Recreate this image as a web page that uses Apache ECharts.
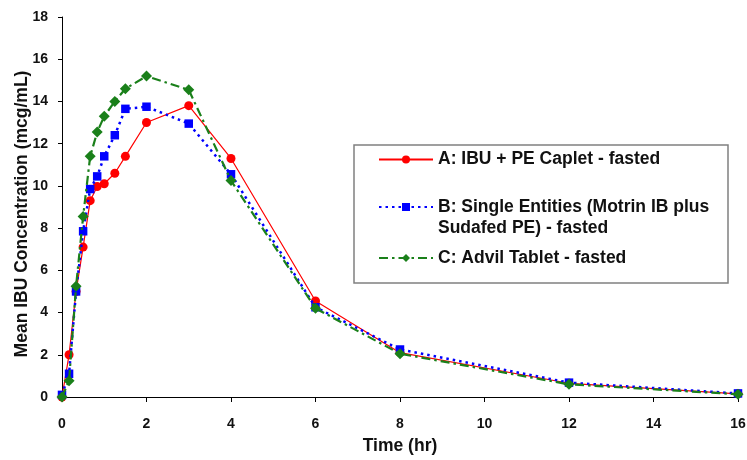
<!DOCTYPE html>
<html>
<head>
<meta charset="utf-8">
<script src="https://cdn.jsdelivr.net/npm/echarts@6/dist/echarts.min.js"></script>
<style>
html,body{margin:0;padding:0;background:#fff;}
#chart{width:747px;height:460px;}
</style>
</head>
<body>
<div id="chart"></div>
<script>
var times = [0, 0.167, 0.333, 0.5, 0.667, 0.833, 1, 1.25, 1.5, 2, 3, 4, 6, 8, 12, 16];
var seriesA = [0, 2.0, 5.0, 7.1, 9.3, 9.97, 10.1, 10.6, 11.4, 13.0, 13.8, 11.3, 4.55, 2.1, 0.65, 0.15];
var seriesB = [0.1, 1.1, 5.0, 7.85, 9.85, 10.45, 11.4, 12.4, 13.65, 13.75, 12.95, 10.55, 4.25, 2.25, 0.68, 0.17];
var seriesC = [0, 0.77, 5.25, 8.55, 11.4, 12.55, 13.3, 14.0, 14.6, 15.2, 14.55, 10.25, 4.2, 2.05, 0.6, 0.13];
var nameA = 'A: IBU + PE Caplet - fasted';
var nameB = 'B: Single Entities (Motrin IB plus\nSudafed PE) - fasted';
var nameC = 'C: Advil Tablet - fasted';
var xTicks = [0, 2, 4, 6, 8, 10, 12, 14, 16];
var yTicks = [0, 2, 4, 6, 8, 10, 12, 14, 16, 18];

function pairs(vals) { return times.map(function (t, i) { return [t, vals[i]]; }); }

var font = '"Liberation Sans", Arial, sans-serif';
var chart = echarts.init(document.getElementById('chart'), null, {renderer: 'canvas'});

function legendCfg(name, top, fmt) {
  var cfg = {
    data: [name], orient: 'vertical', left: 378, top: top, padding: 0,
    itemWidth: 54, itemHeight: 10, itemGap: 0, selectedMode: false,
    textStyle: {fontFamily: font, fontWeight: 'bold', fontSize: 17.5, color: '#111', lineHeight: 21}
  };
  if (fmt) cfg.formatter = fmt;
  return cfg;
}

chart.setOption({
  animation: false,
  backgroundColor: '#fff',
  grid: {left: 62, right: 9, top: 17, bottom: 63, containLabel: false, outerBoundsMode: 'none'},
  xAxis: {
    type: 'value', min: xTicks[0], max: xTicks[xTicks.length - 1], interval: 2,
    name: 'Time (hr)', nameLocation: 'middle', nameGap: 40, nameMoveOverlap: false,
    nameTextStyle: {fontFamily: font, fontWeight: 'bold', fontSize: 17.5, color: '#111'},
    axisLine: {show: true, lineStyle: {color: '#000', width: 1}},
    axisTick: {show: true, inside: false, length: 5, lineStyle: {color: '#000'}},
    axisLabel: {fontFamily: font, fontWeight: 'bold', fontSize: 14, color: '#111', margin: 20},
    splitLine: {show: false}
  },
  yAxis: {
    type: 'value', min: yTicks[0], max: yTicks[yTicks.length - 1], interval: 2,
    name: 'Mean IBU Concentration (mcg/mL)', nameLocation: 'middle', nameGap: 31, nameMoveOverlap: false,
    nameTextStyle: {fontFamily: font, fontWeight: 'bold', fontSize: 17.5, color: '#111', padding: [0, 14, 0, 0]},
    axisLine: {show: true, lineStyle: {color: '#000', width: 1}},
    axisTick: {show: true, inside: false, length: 4, lineStyle: {color: '#000'}},
    axisLabel: {fontFamily: font, fontWeight: 'bold', fontSize: 14, color: '#111', margin: 14},
    splitLine: {show: false}
  },
  legend: [
    legendCfg(nameA, 149),
    legendCfg(nameB, 175.5, function (n) { return '\n' + n; }),
    legendCfg(nameC, 247.5)
  ],
  graphic: [{
    type: 'rect', z: 0,
    shape: {x: 354, y: 145, width: 374, height: 138},
    style: {fill: 'none', stroke: '#808080', lineWidth: 1.5}
  }],
  series: [
    {
      name: nameA, type: 'line', data: pairs(seriesA), z: 2,
      symbol: 'circle', symbolSize: 9,
      lineStyle: {color: '#ff0000', width: 1.2, type: 'solid'},
      itemStyle: {color: '#ff0000'}
    },
    {
      name: nameB, type: 'line', data: pairs(seriesB), z: 3,
      symbol: 'rect', symbolSize: 8.5,
      lineStyle: {color: '#0000ff', width: 2.5, type: [2.5, 4]},
      itemStyle: {color: '#0000ff'}
    },
    {
      name: nameC, type: 'line', data: pairs(seriesC), z: 4,
      symbol: 'diamond', symbolSize: 11,
      lineStyle: {color: '#1a801a', width: 2.2, type: [9, 4, 2.5, 4]},
      itemStyle: {color: '#1a801a'}
    }
  ]
});
</script>
</body>
</html>
